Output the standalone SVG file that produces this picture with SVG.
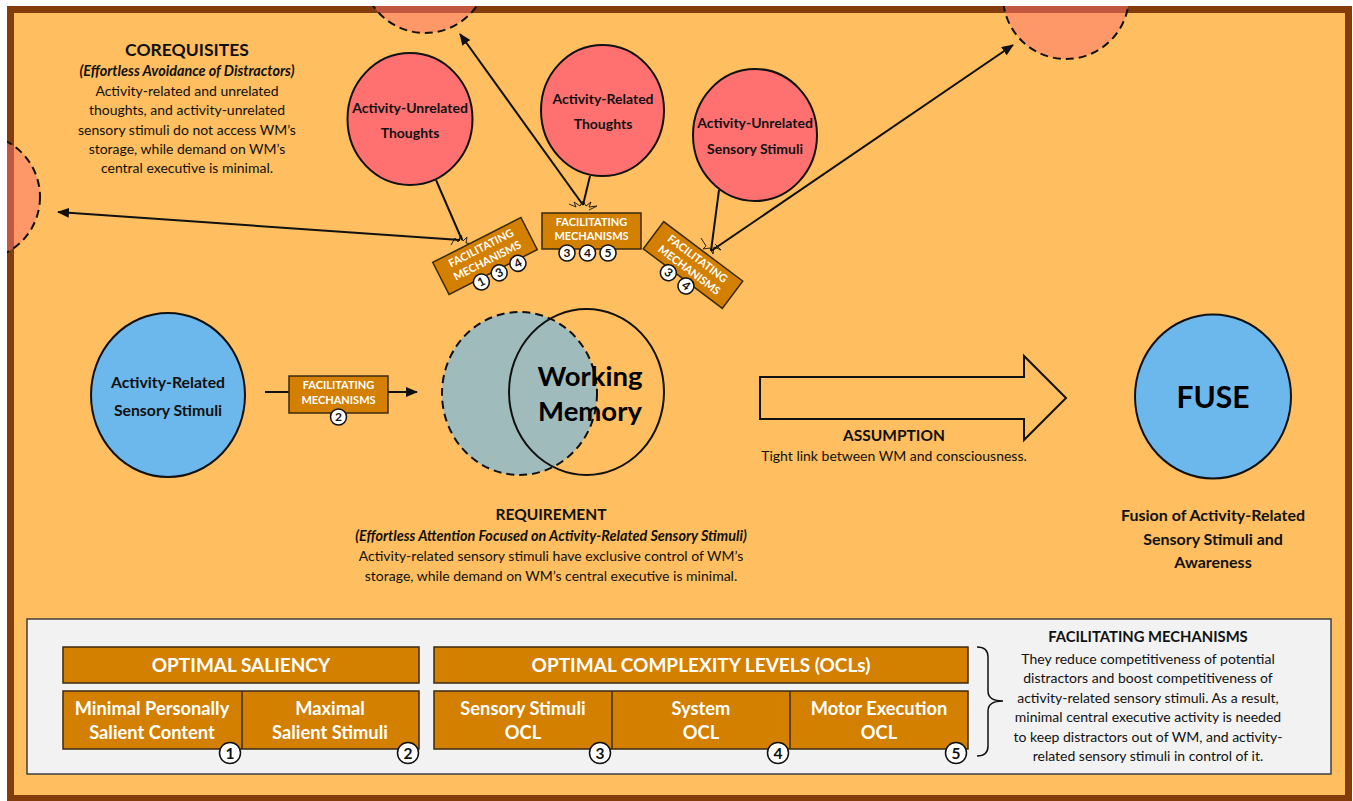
<svg xmlns="http://www.w3.org/2000/svg" width="1353" height="801" viewBox="0 0 1353 801">
<style>
.t{font-family:Lato,"Liberation Sans",sans-serif;fill:#111;text-anchor:middle}
.b{font-weight:bold}
.i{font-style:italic}
.w{fill:#fff}
.box{fill:#D37F00;stroke:#3A2A12;stroke-width:1.5}
.num{fill:#fff;stroke:#111;stroke-width:1.5}
.red{fill:#FF7171;stroke:#111;stroke-width:2}
.ghost{fill:#FF7171;fill-opacity:0.5;stroke:#111;stroke-width:2;stroke-dasharray:8 5}
.blue{fill:#6CB8EC;stroke:#111;stroke-width:2}
.ln{stroke:#111;stroke-width:2;fill:none}
.burst{stroke:#111;stroke-width:0.9;fill:none}
</style>
<defs>
<marker id="ah" markerUnits="userSpaceOnUse" markerWidth="12" markerHeight="10" refX="11" refY="5" orient="auto">
<path d="M0,0 L12,5 L0,10 z" fill="#111"/>
</marker>
<clipPath id="frameClip"><rect x="7" y="6" width="1346" height="795"/></clipPath>
</defs>

<rect id="frame" x="10.5" y="9.5" width="1338" height="789" fill="#FFBE5F" stroke="#843C0C" stroke-width="7"/>

<g id="ghost-circles" clip-path="url(#frameClip)">
<circle class="ghost" cx="-23" cy="197" r="63"/>
<circle class="ghost" cx="425" cy="-30" r="63"/>
<circle class="ghost" cx="1066" cy="-4" r="63"/>
</g>

<g id="corequisites">
<text class="t b" x="187" y="56" font-size="17.5">COREQUISITES</text>
<text class="t b i" x="187" y="76" font-size="14.4">(Effortless Avoidance of Distractors)</text>
<text class="t" x="187" y="96" font-size="14">Activity-related and unrelated</text>
<text class="t" x="187" y="115" font-size="14">thoughts, and activity-unrelated</text>
<text class="t" x="187" y="135" font-size="14">sensory stimuli do not access WM’s</text>
<text class="t" x="187" y="154" font-size="14">storage, while demand on WM’s</text>
<text class="t" x="187" y="173" font-size="14">central executive is minimal.</text>
</g>

<g id="connectors">
<line class="ln" x1="436" y1="180" x2="462" y2="240"/>
<line class="ln" x1="460" y1="240" x2="58" y2="212" marker-end="url(#ah)"/>
<line class="ln" x1="590" y1="176" x2="583" y2="205"/>
<line class="ln" x1="583" y1="205" x2="460" y2="34" marker-end="url(#ah)"/>
<line class="ln" x1="719" y1="190" x2="711" y2="251"/>
<line class="ln" x1="711" y1="251" x2="1013" y2="45" marker-end="url(#ah)"/>
<line class="ln" x1="265" y1="392" x2="289" y2="392"/>
<line class="ln" x1="388" y1="392" x2="417" y2="392" marker-end="url(#ah)"/>
<polyline class="burst" points="451,245 455,238 458,242 461,235 463,241 467,237 466,243 472,244"/>
<polyline class="burst" points="569,204 576,207 574,202 580,206 583,201 586,206 591,202 589,207 597,206 589,210"/>
<polyline class="burst" points="701,238 706,246 703,249 710,248 713,254 714,247 721,250 715,244"/>
</g>

<g id="activity-unrelated-thoughts">
<ellipse class="red" cx="410" cy="119" rx="62.5" ry="66"/>
<text class="t b" x="410" y="113" font-size="14">Activity-Unrelated</text>
<text class="t b" x="410" y="138" font-size="14">Thoughts</text>
</g>
<g id="activity-related-thoughts">
<ellipse class="red" cx="602.5" cy="110.5" rx="61.5" ry="65.5"/>
<text class="t b" x="603" y="104" font-size="14">Activity-Related</text>
<text class="t b" x="603" y="129" font-size="14">Thoughts</text>
</g>
<g id="activity-unrelated-sensory-stimuli">
<ellipse class="red" cx="755" cy="135" rx="62" ry="66"/>
<text class="t b" x="755" y="128" font-size="14">Activity-Unrelated</text>
<text class="t b" x="755" y="154" font-size="14">Sensory Stimuli</text>
</g>

<g id="fm-left" transform="translate(485,256) rotate(-27)">
<rect class="box" x="-49.5" y="-18" width="99" height="36"/>
<text class="t b w" x="0" y="-5" font-size="11">FACILITATING</text>
<text class="t b w" x="0" y="9" font-size="11">MECHANISMS</text>
<circle class="num" cx="-15" cy="21.5" r="8"/><text class="t b" x="-15" y="25.5" font-size="12">1</text>
<circle class="num" cx="5" cy="21.5" r="8"/><text class="t b" x="5" y="25.5" font-size="12">3</text>
<circle class="num" cx="26" cy="21.5" r="8"/><text class="t b" x="26" y="25.5" font-size="12">4</text>
</g>
<g id="fm-middle" transform="translate(591.5,231)">
<rect class="box" x="-49.5" y="-18" width="99" height="36"/>
<text class="t b w" x="0" y="-5" font-size="11">FACILITATING</text>
<text class="t b w" x="0" y="9" font-size="11">MECHANISMS</text>
<circle class="num" cx="-24.5" cy="22" r="8"/><text class="t b" x="-24.5" y="26" font-size="12">3</text>
<circle class="num" cx="-4" cy="22" r="8"/><text class="t b" x="-4" y="26" font-size="12">4</text>
<circle class="num" cx="16.5" cy="22" r="8"/><text class="t b" x="16.5" y="26" font-size="12">5</text>
</g>
<g id="fm-right" transform="translate(693,265) rotate(37)">
<rect class="box" x="-49.5" y="-17" width="99" height="34"/>
<text class="t b w" x="0" y="-4" font-size="11">FACILITATING</text>
<text class="t b w" x="0" y="10" font-size="11">MECHANISMS</text>
<circle class="num" cx="-15" cy="21" r="8"/><text class="t b" x="-15" y="25" font-size="12">3</text>
<circle class="num" cx="7" cy="21" r="8"/><text class="t b" x="7" y="25" font-size="12">4</text>
</g>

<g id="activity-related-sensory-stimuli">
<ellipse class="blue" cx="168" cy="395" rx="77" ry="82"/>
<text class="t b" x="168" y="388" font-size="15.8">Activity-Related</text>
<text class="t b" x="168" y="416" font-size="15.8">Sensory Stimuli</text>
</g>

<g id="fm-2" transform="translate(338.5,394.5)">
<rect class="box" x="-49.5" y="-18.5" width="99" height="37"/>
<text class="t b w" x="0" y="-5.5" font-size="11">FACILITATING</text>
<text class="t b w" x="0" y="9.5" font-size="11">MECHANISMS</text>
<circle class="num" cx="0" cy="22.5" r="8"/><text class="t b" x="0" y="26.5" font-size="12">2</text>
</g>

<g id="working-memory">
<ellipse cx="519.5" cy="393.5" rx="77.5" ry="81.5" fill="#A0BBBB" stroke="#111" stroke-width="2" stroke-dasharray="8 5"/>
<ellipse cx="586.5" cy="392" rx="77.5" ry="83" fill="none" stroke="#111" stroke-width="2"/>
<text class="t b" x="590" y="386" font-size="27.5" style="fill:#000">Working</text>
<text class="t b" x="590" y="421" font-size="27.5" style="fill:#000">Memory</text>
</g>

<g id="requirement">
<text class="t b" x="551" y="520" font-size="15.5">REQUIREMENT</text>
<text class="t b i" x="551" y="541" font-size="14.4">(Effortless Attention Focused on Activity-Related Sensory Stimuli)</text>
<text class="t" x="551" y="561" font-size="14">Activity-related sensory stimuli have exclusive control of WM’s</text>
<text class="t" x="551" y="581" font-size="14">storage, while demand on WM’s central executive is minimal.</text>
</g>

<g id="assumption">
<polygon points="760,377 1024,377 1024,356 1066,398 1024,440 1024,419 760,419" fill="none" stroke="#111" stroke-width="2"/>
<text class="t b" x="894" y="441" font-size="15.5">ASSUMPTION</text>
<text class="t" x="894" y="461" font-size="14">Tight link between WM and consciousness.</text>
</g>

<g id="fuse">
<ellipse class="blue" cx="1213" cy="396.5" rx="78" ry="82"/>
<text class="t b" x="1213" y="408" font-size="30" style="fill:#000">FUSE</text>
<text class="t b" x="1213" y="521" font-size="16">Fusion of Activity-Related</text>
<text class="t b" x="1213" y="545" font-size="16">Sensory Stimuli and</text>
<text class="t b" x="1213" y="568" font-size="16">Awareness</text>
</g>

<g id="legend">
<rect x="27" y="619" width="1304" height="155" fill="#F2F2F2" stroke="#3F3F3F" stroke-width="1.5"/>
<g id="optimal-saliency">
<rect class="box" x="63" y="647" width="356" height="36"/>
<text class="t b w" x="241" y="672" font-size="19">OPTIMAL SALIENCY</text>
<rect class="box" x="63" y="691" width="356" height="58"/>
<line x1="242" y1="691" x2="242" y2="749" stroke="#3A2A12" stroke-width="1.5"/>
<text class="t b w" x="152" y="715" font-size="18.3">Minimal Personally</text>
<text class="t b w" x="152" y="739" font-size="18.3">Salient Content</text>
<text class="t b w" x="330" y="715" font-size="18.3">Maximal</text>
<text class="t b w" x="330" y="739" font-size="18.3">Salient Stimuli</text>
<circle class="num" cx="230" cy="753" r="10.5"/><text class="t b" x="230" y="758.5" font-size="15.5">1</text>
<circle class="num" cx="408" cy="753" r="10.5"/><text class="t b" x="408" y="758.5" font-size="15.5">2</text>
</g>
<g id="optimal-complexity-levels">
<rect class="box" x="434" y="647" width="534" height="36"/>
<text class="t b w" x="701" y="672" font-size="19">OPTIMAL COMPLEXITY LEVELS (OCLs)</text>
<rect class="box" x="434" y="691" width="534" height="58"/>
<line x1="612" y1="691" x2="612" y2="749" stroke="#3A2A12" stroke-width="1.5"/>
<line x1="790" y1="691" x2="790" y2="749" stroke="#3A2A12" stroke-width="1.5"/>
<text class="t b w" x="523" y="715" font-size="18.3">Sensory Stimuli</text>
<text class="t b w" x="523" y="739" font-size="18.3">OCL</text>
<text class="t b w" x="701" y="715" font-size="18.3">System</text>
<text class="t b w" x="701" y="739" font-size="18.3">OCL</text>
<text class="t b w" x="879" y="715" font-size="18.3">Motor Execution</text>
<text class="t b w" x="879" y="739" font-size="18.3">OCL</text>
<circle class="num" cx="600" cy="753" r="10.5"/><text class="t b" x="600" y="758.5" font-size="15.5">3</text>
<circle class="num" cx="778" cy="753" r="10.5"/><text class="t b" x="778" y="758.5" font-size="15.5">4</text>
<circle class="num" cx="956" cy="753" r="10.5"/><text class="t b" x="956" y="758.5" font-size="15.5">5</text>
</g>
<path d="M977,647 Q988,647 988,657 V691 Q988,701 1003,701 Q988,701 988,711 V746 Q988,756 977,756" fill="none" stroke="#111" stroke-width="1.5"/>
<g id="fm-description">
<text class="t b" x="1148" y="642" font-size="14.8">FACILITATING MECHANISMS</text>
<text class="t" x="1148" y="664" font-size="14">They reduce competitiveness of potential</text>
<text class="t" x="1148" y="683" font-size="14">distractors and boost competitiveness of</text>
<text class="t" x="1148" y="703" font-size="14">activity-related sensory stimuli. As a result,</text>
<text class="t" x="1148" y="722" font-size="14">minimal central executive activity is needed</text>
<text class="t" x="1148" y="742" font-size="14">to keep distractors out of WM, and activity-</text>
<text class="t" x="1148" y="761" font-size="14">related sensory stimuli in control of it.</text>
</g>
</g>
</svg>
